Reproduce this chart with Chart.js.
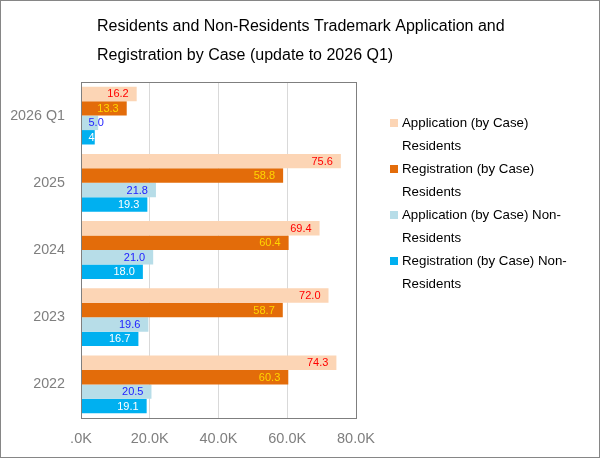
<!DOCTYPE html>
<html>
<head>
<meta charset="utf-8">
<script src="https://cdn.jsdelivr.net/npm/chart.js@4/dist/chart.umd.min.js"></script>
<style>
  html, body { margin: 0; padding: 0; background: #fff; }
  #wrap { position: relative; width: 600px; height: 458px; }
</style>
</head>
<body>
<div id="wrap"><canvas id="chart"></canvas></div>
<script>
// Werte in Tausend (K)
const categories = ['2026 Q1', '2025', '2024', '2023', '2022'];
const seriesNames = [
  ['Application (by Case)', 'Residents'],
  ['Registration (by Case)', 'Residents'],
  ['Application (by Case) Non-', 'Residents'],
  ['Registration (by Case) Non-', 'Residents']
];
const appResidents = [16.2, 75.6, 69.4, 72.0, 74.3];
const regResidents = [13.3, 58.8, 60.4, 58.7, 60.3];
const appNonResidents = [5.0, 21.8, 21.0, 19.6, 20.5];
const regNonResidents = [4, 19.3, 18.0, 16.7, 19.1];
const xTicks = [0, 20, 40, 60, 80];
const titleLines = [
  'Residents and Non-Residents Trademark Application and',
  'Registration by Case (update to 2026 Q1)'
];

const barColors = ['#fcd5b5', '#e36c0a', '#b7dde8', '#00b0f0'];
const labelColors = ['#ff0000', '#ffd700', '#2222ff', '#ffffff'];
const FONT = '"Liberation Sans", Arial, sans-serif';

// Wertebeschriftung, Titel, Legende und Rahmen selbst zeichnen
const decorPlugin = {
  id: 'decor',
  afterDatasetsDraw(chart) {
    const ctx = chart.ctx;
    ctx.save();
    ctx.font = '11px ' + FONT;
    ctx.textBaseline = 'middle';
    ctx.textAlign = 'left';
    chart.data.datasets.forEach((ds, i) => {
      chart.getDatasetMeta(i).data.forEach((bar, j) => {
        const v = ds.data[j];
        const txt = (i === 3 && j === 0) ? String(v) : v.toFixed(1);
        const w = ctx.measureText(txt).width;
        const x = Math.max(bar.x - 8 - w, bar.base + 7);
        ctx.fillStyle = labelColors[i];
        ctx.fillText(txt, x, bar.y + 0.5);
      });
    });
    // Rahmen des Plotbereichs
    const a = chart.chartArea;
    ctx.strokeStyle = '#7f7f7f';
    ctx.lineWidth = 1;
    ctx.strokeRect(Math.round(a.left) + 0.5, Math.round(a.top) + 0.5,
      Math.round(a.right - a.left), Math.round(a.bottom - a.top));
    ctx.restore();
  },
  afterDraw(chart) {
    const ctx = chart.ctx;
    ctx.save();
    // Titel
    ctx.fillStyle = '#000';
    ctx.font = '16px ' + FONT;
    ctx.textAlign = 'left';
    ctx.textBaseline = 'alphabetic';
    titleLines.forEach((t, k) => ctx.fillText(t, 97, 31 + k * 29));
    // Legende
    ctx.font = '13.3px ' + FONT;
    ctx.textBaseline = 'middle';
    chart.data.datasets.forEach((ds, i) => {
      const y0 = 123 + i * 46;
      ctx.fillStyle = ds.backgroundColor;
      ctx.fillRect(390, y0 - 4, 8, 8);
      ctx.fillStyle = '#000';
      seriesNames[i].forEach((line, k) => ctx.fillText(line, 402, y0 + k * 23));
    });
    // Außenrahmen
    ctx.strokeStyle = '#868686';
    ctx.strokeRect(0.5, 0.5, 599, 457);
    ctx.restore();
  }
};

const allSeries = [appResidents, regResidents, appNonResidents, regNonResidents];

new Chart(document.getElementById('chart'), {
  type: 'bar',
  data: {
    labels: categories,
    datasets: allSeries.map((d, i) => ({
      label: seriesNames[i].join(' '),
      data: d,
      backgroundColor: barColors[i],
      categoryPercentage: 0.86,
      barPercentage: 1.0
    }))
  },
  options: {
    indexAxis: 'y',
    responsive: true,
    maintainAspectRatio: false,
    animation: false,
    layout: { padding: { top: 82, right: 244, bottom: 0, left: 0 } },
    plugins: {
      legend: { display: false },
      title: { display: false },
      tooltip: { enabled: false }
    },
    scales: {
      x: {
        min: 0,
        max: 80,
        afterBuildTicks: s => { s.ticks = xTicks.map(v => ({ value: v })); },
        afterFit: s => { s.height = 40; },
        grid: { color: '#d9d9d9', drawTicks: false },
        border: { display: false },
        ticks: {
          padding: 12,
          color: '#7f7f7f',
          font: { family: FONT, size: 14.5 },
          callback: v => v.toFixed(1).replace(/^0/, '') + 'K'
        }
      },
      y: {
        afterFit: s => { s.width = 81; },
        grid: { display: false, drawTicks: false },
        border: { display: false },
        ticks: {
          padding: 16,
          color: '#7f7f7f',
          font: { family: FONT, size: 14.3 }
        }
      }
    }
  },
  plugins: [decorPlugin]
});
</script>
</body>
</html>
